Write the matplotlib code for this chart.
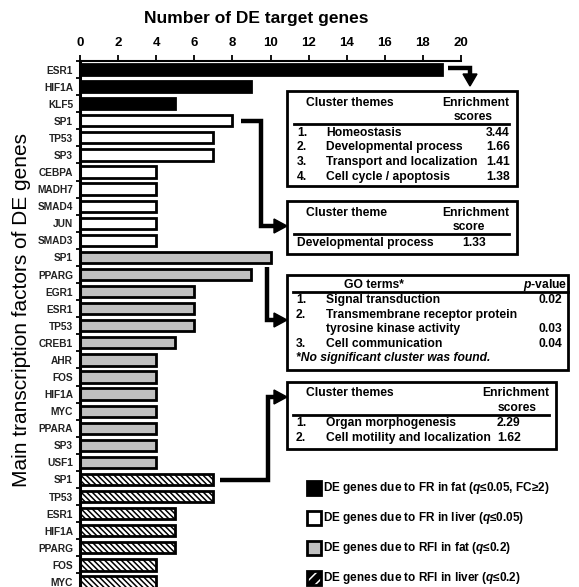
import numpy as np
import matplotlib.pyplot as plt
from matplotlib.patches import Rectangle, Polygon
from matplotlib.lines import Line2D
from matplotlib.transforms import Affine2D

plt.rcParams['font.family'] = ['Liberation Sans', 'DejaVu Sans']
plt.rcParams['mathtext.fontset'] = 'custom'
plt.rcParams['mathtext.it'] = 'Liberation Sans:bold:italic'
plt.rcParams['mathtext.rm'] = 'Liberation Sans:bold'
plt.rcParams['hatch.linewidth'] = 1.1

# data
fat_fr_genes = ['ESR1', 'HIF1A', 'KLF5']
fat_fr_counts = [19, 9, 5]
liver_fr_genes = ['SP1', 'TP53', 'SP3', 'CEBPA', 'MADH7', 'SMAD4', 'JUN', 'SMAD3']
liver_fr_counts = [8, 7, 7, 4, 4, 4, 4, 4]
fat_rfi_genes = ['SP1', 'PPARG', 'EGR1', 'ESR1', 'TP53', 'CREB1', 'AHR', 'FOS',
                 'HIF1A', 'MYC', 'PPARA', 'SP3', 'USF1']
fat_rfi_counts = [10, 9, 6, 6, 6, 5, 4, 4, 4, 4, 4, 4, 4]
liver_rfi_genes = ['SP1', 'TP53', 'ESR1', 'HIF1A', 'PPARG', 'FOS', 'MYC']
liver_rfi_counts = [7, 7, 5, 5, 5, 4, 4]

legend_labels = [r'DE genes due to FR in fat ($q$≤0.05, FC≥2)',
                 r'DE genes due to FR in liver ($q$≤0.05)',
                 r'DE genes due to RFI in fat ($q$≤0.2)',
                 r'DE genes due to RFI in liver ($q$≤0.2)']

W, H = 579, 587
fig = plt.figure(figsize=(W / 100, H / 100), dpi=100)
# pixel coordinates (origin top-left) -> figure
pix = Affine2D().scale(1 / W, -1 / H).translate(0, 1) + fig.transFigure

ax_l, ax_r, ax_t, ax_b = 80, 461, 61, 590.5
ax = fig.add_axes([ax_l / W, 1 - ax_b / H, (ax_r - ax_l) / W, (ax_b - ax_t) / H])

groups = [
    (fat_fr_genes, fat_fr_counts, dict(color='black', edgecolor='black')),
    (liver_fr_genes, liver_fr_counts, dict(color='white', edgecolor='black')),
    (fat_rfi_genes, fat_rfi_counts, dict(color='#c0c0c0', edgecolor='black')),
    (liver_rfi_genes, liver_rfi_counts, dict(color='white', edgecolor='black', hatch='\\\\\\\\\\\\')),
]

labels = []
pos = 0
for genes, counts, style in groups:
    y = np.arange(pos, pos + len(genes))
    ax.barh(y, counts, height=0.66, linewidth=2.0, **style)
    labels += genes
    pos += len(genes)

n = len(labels)
ax.set_ylim(n - 0.5, -0.5)
ax.set_xlim(0, 20)
ax.set_yticks(np.arange(n))
ax.set_yticklabels(labels, fontsize=7.3, fontweight='bold', color='#222222')
ax.set_yticks(np.arange(n + 1) - 0.5, minor=True)
ax.tick_params(axis='y', which='major', length=0, pad=5)
ax.tick_params(axis='y', which='minor', length=3, width=1.3, direction='out')
ax.xaxis.tick_top()
ax.set_xticks(np.arange(0, 21, 2))
ax.tick_params(axis='x', length=4, width=1.3, labelsize=9.5, pad=5)
for t in ax.get_xticklabels():
    t.set_fontweight('bold')
ax.spines['right'].set_visible(False)
ax.spines['bottom'].set_visible(False)
ax.spines['left'].set_linewidth(2.2)
ax.spines['top'].set_linewidth(1.5)

fig.text(256, 18, 'Number of DE target genes', transform=pix, fontsize=12.5,
         fontweight='bold', ha='center', va='center')
fig.text(22, 310, 'Main transcription factors of DE genes', transform=pix,
         fontsize=15, rotation=90, ha='center', va='center')


def box(x0, y0, x1, y1):
    fig.patches.append(Rectangle((x0, y0), x1 - x0, y1 - y0, transform=pix,
                                 fill=False, edgecolor='black', linewidth=2.0))


def hline(x0, x1, y):
    fig.lines.append(Line2D([x0, x1], [y, y], transform=pix, color='black', linewidth=2.0))


def txt(x, y, s, ha='left', **kw):
    fig.text(x, y, s, transform=pix, fontsize=8.7, fontweight='bold',
             ha=ha, va='center', **kw)


def connector(points, direction):
    xs = [p[0] for p in points]
    ys = [p[1] for p in points]
    fig.lines.append(Line2D(xs, ys, transform=pix, color='black', linewidth=3.2,
                            solid_joinstyle='miter', solid_capstyle='butt'))
    x, y = points[-1]
    if direction == 'down':
        tri = [(x - 7, y), (x + 7, y), (x, y + 12)]
    else:
        tri = [(x, y - 7), (x, y + 7), (x + 13, y)]
    fig.patches.append(Polygon(tri, closed=True, transform=pix, color='black'))


# box 1
box(287, 91, 517, 186)
txt(306, 103, 'Cluster themes')
txt(509, 103, 'Enrichment', ha='right')
txt(473, 117, 'scores', ha='center')
hline(294, 509, 124)
for i, (a, b) in enumerate([('Homeostasis', '3.44'), ('Developmental process', '1.66'),
                            ('Transport and localization', '1.41'),
                            ('Cell cycle / apoptosis', '1.38')]):
    yy = 132.5 + i * 14.8
    txt(297, yy, f'{i + 1}.')
    txt(326, yy, a)
    txt(510, yy, b, ha='right')

# box 2
box(287, 201, 517, 254)
txt(306, 213, 'Cluster theme')
txt(509, 213, 'Enrichment', ha='right')
txt(469, 227, 'score', ha='center')
hline(294, 509, 234)
txt(297, 243, 'Developmental process')
txt(474, 243, '1.33', ha='center')

# box 3
box(287, 275, 568, 370)
txt(374, 285, 'GO terms*', ha='center')
txt(567, 285, r'$p$-value', ha='right')
hline(293, 568, 291.5)
txt(296, 300, '1.')
txt(326, 300, 'Signal transduction')
txt(562, 300, '0.02', ha='right')
txt(296, 315, '2.')
txt(326, 315, 'Transmembrane receptor protein')
txt(326, 329, 'tyrosine kinase activity')
txt(562, 329, '0.03', ha='right')
txt(296, 344, '3.')
txt(326, 344, 'Cell communication')
txt(562, 344, '0.04', ha='right')
txt(296, 358, '*No significant cluster was found.', fontstyle='italic')

# box 4
box(287, 382, 556, 449)
txt(306, 393, 'Cluster themes')
txt(549, 393, 'Enrichment', ha='right')
txt(517, 408, 'scores', ha='center')
hline(293, 549, 415)
txt(296, 423, '1.')
txt(326, 423, 'Organ morphogenesis')
txt(497, 423, '2.29')
txt(296, 438, '2.')
txt(326, 438, 'Cell motility and localization')
txt(497, 438, '1.62')

# connectors
connector([(448, 68), (470, 68), (470, 74)], 'down')
connector([(241, 121), (261, 121), (261, 226), (274, 226)], 'right')
connector([(267, 267), (267, 320), (274, 320)], 'right')
connector([(220, 480), (268, 480), (268, 397), (274, 397)], 'right')

# legend
for i, (lab, (_, _, style)) in enumerate(zip(legend_labels, groups)):
    yc = 488 + i * 30
    st = dict(style)
    fc = st.pop('color')
    hatch = st.pop('hatch', None)
    if hatch:
        fig.patches.append(Rectangle((307, yc - 7), 14, 14, transform=pix, facecolor='black',
                                     edgecolor='white', hatch='///', linewidth=0))
        fig.patches.append(Rectangle((307, yc - 7), 14, 14, transform=pix, fill=False,
                                     edgecolor='black', linewidth=2.0))
    else:
        fig.patches.append(Rectangle((307, yc - 7), 14, 14, transform=pix, facecolor=fc,
                                     edgecolor='black', linewidth=2.0))
    fig.text(323, yc, lab, transform=pix, fontsize=8.5, fontweight='bold',
             ha='left', va='center')

fig.savefig('out.png', dpi=100)
